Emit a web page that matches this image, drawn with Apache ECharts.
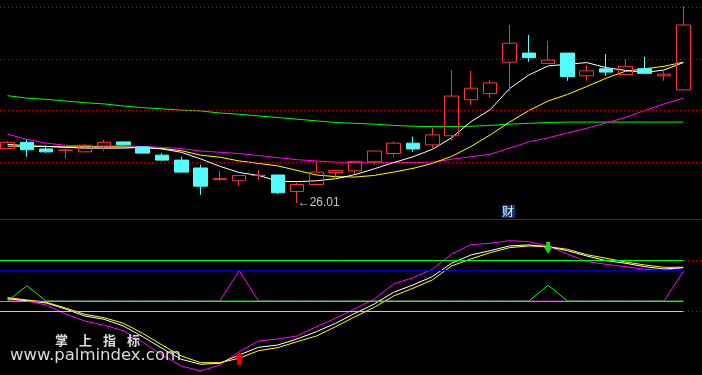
<!DOCTYPE html>
<html><head><meta charset="utf-8">
<script src="https://cdn.jsdelivr.net/npm/echarts@6/dist/echarts.min.js"></script>
<style>html,body{margin:0;padding:0;background:#000;}#c{width:702px;height:375px;}</style>
</head><body><div id="c"></div>
<script>
// ---- candles (price) ----
const opens  = [27.33,27.48,27.32,27.29,27.25,27.39,27.49,27.37,27.17,27.05, 26.86,26.58,26.55,26.68,26.69,26.29,26.46,26.75,26.79,27.01, 27.21,27.46,27.42,27.64,28.51,28.66,29.42,29.64,29.39,29.64, 29.09,29.26,29.12,29.26,29.09,28.75];
const closes = [27.48,27.30,27.25,27.29,27.41,27.48,27.42,27.22,27.05,26.76, 26.42,26.60,26.68,26.68,26.26,26.46,26.76,26.80,27.02,27.27, 27.46,27.32,27.66,28.60,28.79,28.92,29.88,29.53,29.47,29.07, 29.21,29.18,29.32,29.15,29.13,30.32];
const lows   = [27.32,27.13,27.23,27.09,27.25,27.28,27.42,27.22,27.03,26.75, 26.21,26.55,26.43,26.57,26.23,26.01,26.46,26.59,26.72,26.94, 27.13,27.25,27.34,27.52,28.39,28.56,28.71,29.43,29.39,28.97, 28.97,29.09,29.12,29.15,28.97,28.75];
const highs  = [27.51,27.55,27.41,27.32,27.44,27.54,27.49,27.37,27.22,27.13, 26.94,26.79,26.68,26.81,26.69,26.50,27.03,26.80,27.02,27.27, 27.50,27.62,27.83,29.23,29.21,28.99,30.32,30.08,29.93,29.64, 29.35,29.62,29.49,29.55,29.23,30.78];
// ---- moving averages ----
const maWhite   = [27.43,27.40,27.38,27.36,27.34,27.34,27.34,27.36,27.32,27.24, 27.08,26.90,26.75,26.68,26.54,26.53,26.55,26.60,26.70,26.84, 26.99,27.13,27.31,27.59,27.98,28.27,28.78,29.11,29.33,29.37, 29.41,29.29,29.22,29.17,29.23,29.41];
const maYellow  = [27.39,27.38,27.38,27.37,27.37,27.37,27.37,27.35,27.33,27.28, 27.17,27.12,27.03,26.97,26.91,26.80,26.69,26.65,26.64,26.68, 26.76,26.85,26.97,27.14,27.38,27.66,27.97,28.25,28.48,28.64, 28.83,29.03,29.20,29.26,29.32,29.42];
const maMagenta = [27.68,27.55,27.46,27.41,27.39,27.38,27.40,27.38,27.36,27.33, 27.27,27.24,27.21,27.16,27.11,27.06,27.03,27.00,26.99,26.99, 26.99,26.99,27.00,27.07,27.13,27.19,27.34,27.49,27.59,27.71, 27.82,27.95,28.08,28.25,28.41,28.55];
const maGreen   = [28.61,28.55,28.52,28.48,28.44,28.41,28.36,28.32,28.29,28.26, 28.24,28.19,28.16,28.12,28.08,28.04,28.00,27.96,27.94,27.92, 27.89,27.87,27.86,27.86,27.87,27.89,27.92,27.94,27.96,27.97, 27.97,27.97,27.97,27.97,27.97,27.97];
const priceGuides = [27, 28.25, 29.5, 30.75];
// ---- indicator panel ----
const indWhite   = [24.7,20.8,16.3,4.5,-9.2,-15.7,-28.8,-49.8,-72.6,-94.2, -104.0,-102.0,-85.7,-70.6,-66.1,-54.3,-40.0,-23.5,-3.9,14.3, 37.3,51.6,67.9,94.2,110.4,118.9,128.1,130.1,126.7,118.9, 108.5,99.3,94.2,87.5,83.0,85.5];
const indYellow  = [26.7,22.2,17.7,6.5,-5.9,-12.6,-23.5,-43.2,-66.1,-87.7, -100.8,-100.8,-92.2,-77.3,-71.4,-59.6,-48.5,-30.2,-10.6,7.8, 30.0,45.1,61.4,88.9,102.6,115.0,124.8,128.1,126.7,121.6, 111.0,104.0,96.7,90.8,86.3,86.3];
const indMagenta = [22.8,20.2,12.4,-5.3,-19.0,-27.5,-38.1,-60.8,-85.7,-107.3, -117.1,-105.3,-79.2,-58.3,-54.3,-48.5,-30.2,-13.7,5.1,24.1, 53.6,65.9,82.4,112.4,130.6,133.4,138.5,136.5,128.1,112.4, 97.3,92.2,87.5,82.4,79.6,86.3];
const sigGreen   = [20,50,20,20,20,20,20,20,20,20, 20,20,20,20,20,20,20,20,20,20, 20,20,20,20,20,20,20,20,51,20, 20,20,20,20,20,20];
const sigMagenta = [20,20,20,20,20,20,20,20,20,20, 20,20,80,20,20,20,20,20,20,20, 20,20,20,20,20,20,20,20,20,20, 20,20,20,20,20,78];
const indLevels = [100, 80, 20, 0];
const indLevelColors = ['#00ff00', '#0000c8', '#00ff00', '#c8c8c8'];
const dottedIndLevels = [100, 0];
const buyIndex = 12, sellIndex = 28;

const XMIN = -0.39, XMAX = 35.97;
const N = opens.length, LAST = N - 1;
const idx = opens.map((_, i) => i);
const pair = arr => arr.map((v, i) => [i, v]);
const candleData = idx.map(i => [i, opens[i], closes[i], lows[i], highs[i]]);
let lowIdx = 0; lows.forEach((v, i) => { if (v < lows[lowIdx]) lowIdx = i; });

const RED = '#ff3232', CYAN = '#54fcfc';
const lineS = (name, data, color, xi, z) => ({
  name, type: 'line', data, xAxisIndex: xi, yAxisIndex: xi, showSymbol: false, symbol: 'none',
  lineStyle: { color, width: 1 }, z, silent: true, animation: false
});

const chart = echarts.init(document.getElementById('c'), null, { renderer: 'canvas' });
chart.setOption({
  backgroundColor: '#000',
  animation: false,
  grid: [
    { left: 0, right: 0, top: 0, height: 219, containLabel: false },
    { left: 0, right: 0, top: 219, height: 156, containLabel: false }
  ],
  xAxis: [
    { type: 'value', gridIndex: 0, min: XMIN, max: XMAX, axisLine: { show: true, onZero: false, lineStyle: { color: '#a80000', width: 1 } }, axisTick: { show: false }, axisLabel: { show: false }, splitLine: { show: false } },
    { type: 'value', gridIndex: 1, min: XMIN, max: XMAX, show: false, splitLine: { show: false } }
  ],
  yAxis: [
    { type: 'value', gridIndex: 0, min: 25.625, max: 30.925, show: false, splitLine: { show: false } },
    { type: 'value', gridIndex: 1, min: -125, max: 181, show: false, splitLine: { show: false } }
  ],
  series: [
    Object.assign(lineS('MA60', pair(maGreen), '#00ff00', 0, 2), {
      markLine: { silent: true, symbol: 'none', animation: false, label: { show: false },
        lineStyle: { color: '#d00000', type: [1, 3], width: 1 },
        data: priceGuides.map(v => ({ yAxis: v })) }
    }),
    lineS('MA20', pair(maMagenta), '#ff00ff', 0, 3),
    lineS('MA10', pair(maYellow), '#ffff00', 0, 4),
    lineS('MA5', pair(maWhite), '#ffffff', 0, 5),
    {
      name: 'K', type: 'candlestick', xAxisIndex: 0, yAxisIndex: 0, data: candleData,
      encode: { x: 0, y: [1, 2, 3, 4] }, barWidth: 14, clip: false, z: 6, animation: false, silent: true,
      itemStyle: { color: 'rgba(0,0,0,0)', color0: CYAN, borderColor: RED, borderColor0: CYAN, borderColorDoji: RED, borderWidth: 1 },
      markPoint: { silent: true, animation: false, symbol: 'circle', symbolSize: 1, itemStyle: { color: 'rgba(0,0,0,0)' },
        label: { show: true, position: 'right', distance: 0, color: '#c8c8c8', fontSize: 12, fontFamily: 'Liberation Sans, DejaVu Sans, sans-serif', verticalAlign: 'middle' },
        data: [{ coord: [lowIdx, lows[lowIdx]], label: { formatter: '\u2190' + lows[lowIdx].toFixed(2) } }] }
    },
    Object.assign(lineS('SIGM', pair(sigMagenta), '#ff00ff', 1, 1), {
      markLine: { silent: true, symbol: 'none', animation: false, label: { show: false },
        data: dottedIndLevels.map(v => ({ yAxis: v, lineStyle: { color: '#d00000', type: [1, 3], width: 1 } }))
          .concat(indLevels.map((v, k) => [{ coord: [XMIN, v], lineStyle: { color: indLevelColors[k], type: 'solid', width: 1 } }, { coord: [LAST, v] }])) }
    }),
    lineS('SIGG', pair(sigGreen), '#00ff00', 1, 2),
    lineS('IND3', pair(indMagenta), '#ff00ff', 1, 3),
    Object.assign(lineS('IND1', pair(indWhite), '#ffffff', 1, 4), {
      markPoint: { silent: true, animation: false, z: 10,
        data: [{ coord: [sellIndex, indWhite[sellIndex]], symbol: 'path://M2.5,0 L6.5,0 L6.5,5 L9,5 L4.5,12 L0,5 L2.5,5 Z', symbolSize: [9, 12], symbolOffset: [0, 1], itemStyle: { color: '#1ed21e' }, label: { show: false } }] }
    }),
    Object.assign(lineS('IND2', pair(indYellow), '#ffff00', 1, 4), {
      markPoint: { silent: true, animation: false, z: 10,
        data: [{ coord: [buyIndex, indYellow[buyIndex]], symbol: 'path://M4.5,0 L9,6.5 L6.5,6.5 L6.5,13 L2.5,13 L2.5,6.5 L0,6.5 Z', symbolSize: [9, 13], symbolOffset: [0, 0], itemStyle: { color: '#ff0000' }, label: { show: false } }] }
    })
  ],
  graphic: [
    { type: 'rect', left: 502, top: 205, shape: { width: 13, height: 13 }, style: { fill: '#0d3a6c' }, z: 20 },
    { type: 'text', left: 502, top: 205, style: { text: '财', fill: '#e6eef6', font: '12px "Noto Sans CJK SC"' }, z: 21 },
    { type: 'text', left: 55, top: 334, style: { text: '掌', fill: '#dcdcdc', font: 'bold 13px "Noto Sans CJK SC"' }, z: 20 },
    { type: 'text', left: 79, top: 334, style: { text: '上', fill: '#dcdcdc', font: 'bold 13px "Noto Sans CJK SC"' }, z: 20 },
    { type: 'text', left: 103, top: 334, style: { text: '指', fill: '#dcdcdc', font: 'bold 13px "Noto Sans CJK SC"' }, z: 20 },
    { type: 'text', left: 127, top: 334, style: { text: '标', fill: '#dcdcdc', font: 'bold 13px "Noto Sans CJK SC"' }, z: 20 },
    { type: 'text', left: 10, top: 347, style: { text: 'www.palmindex.com', fill: '#dcdcdc', font: '16.5px "DejaVu Sans"', shadowColor: '#444', shadowBlur: 2 }, z: 20 }
  ]
});
</script></body></html>
